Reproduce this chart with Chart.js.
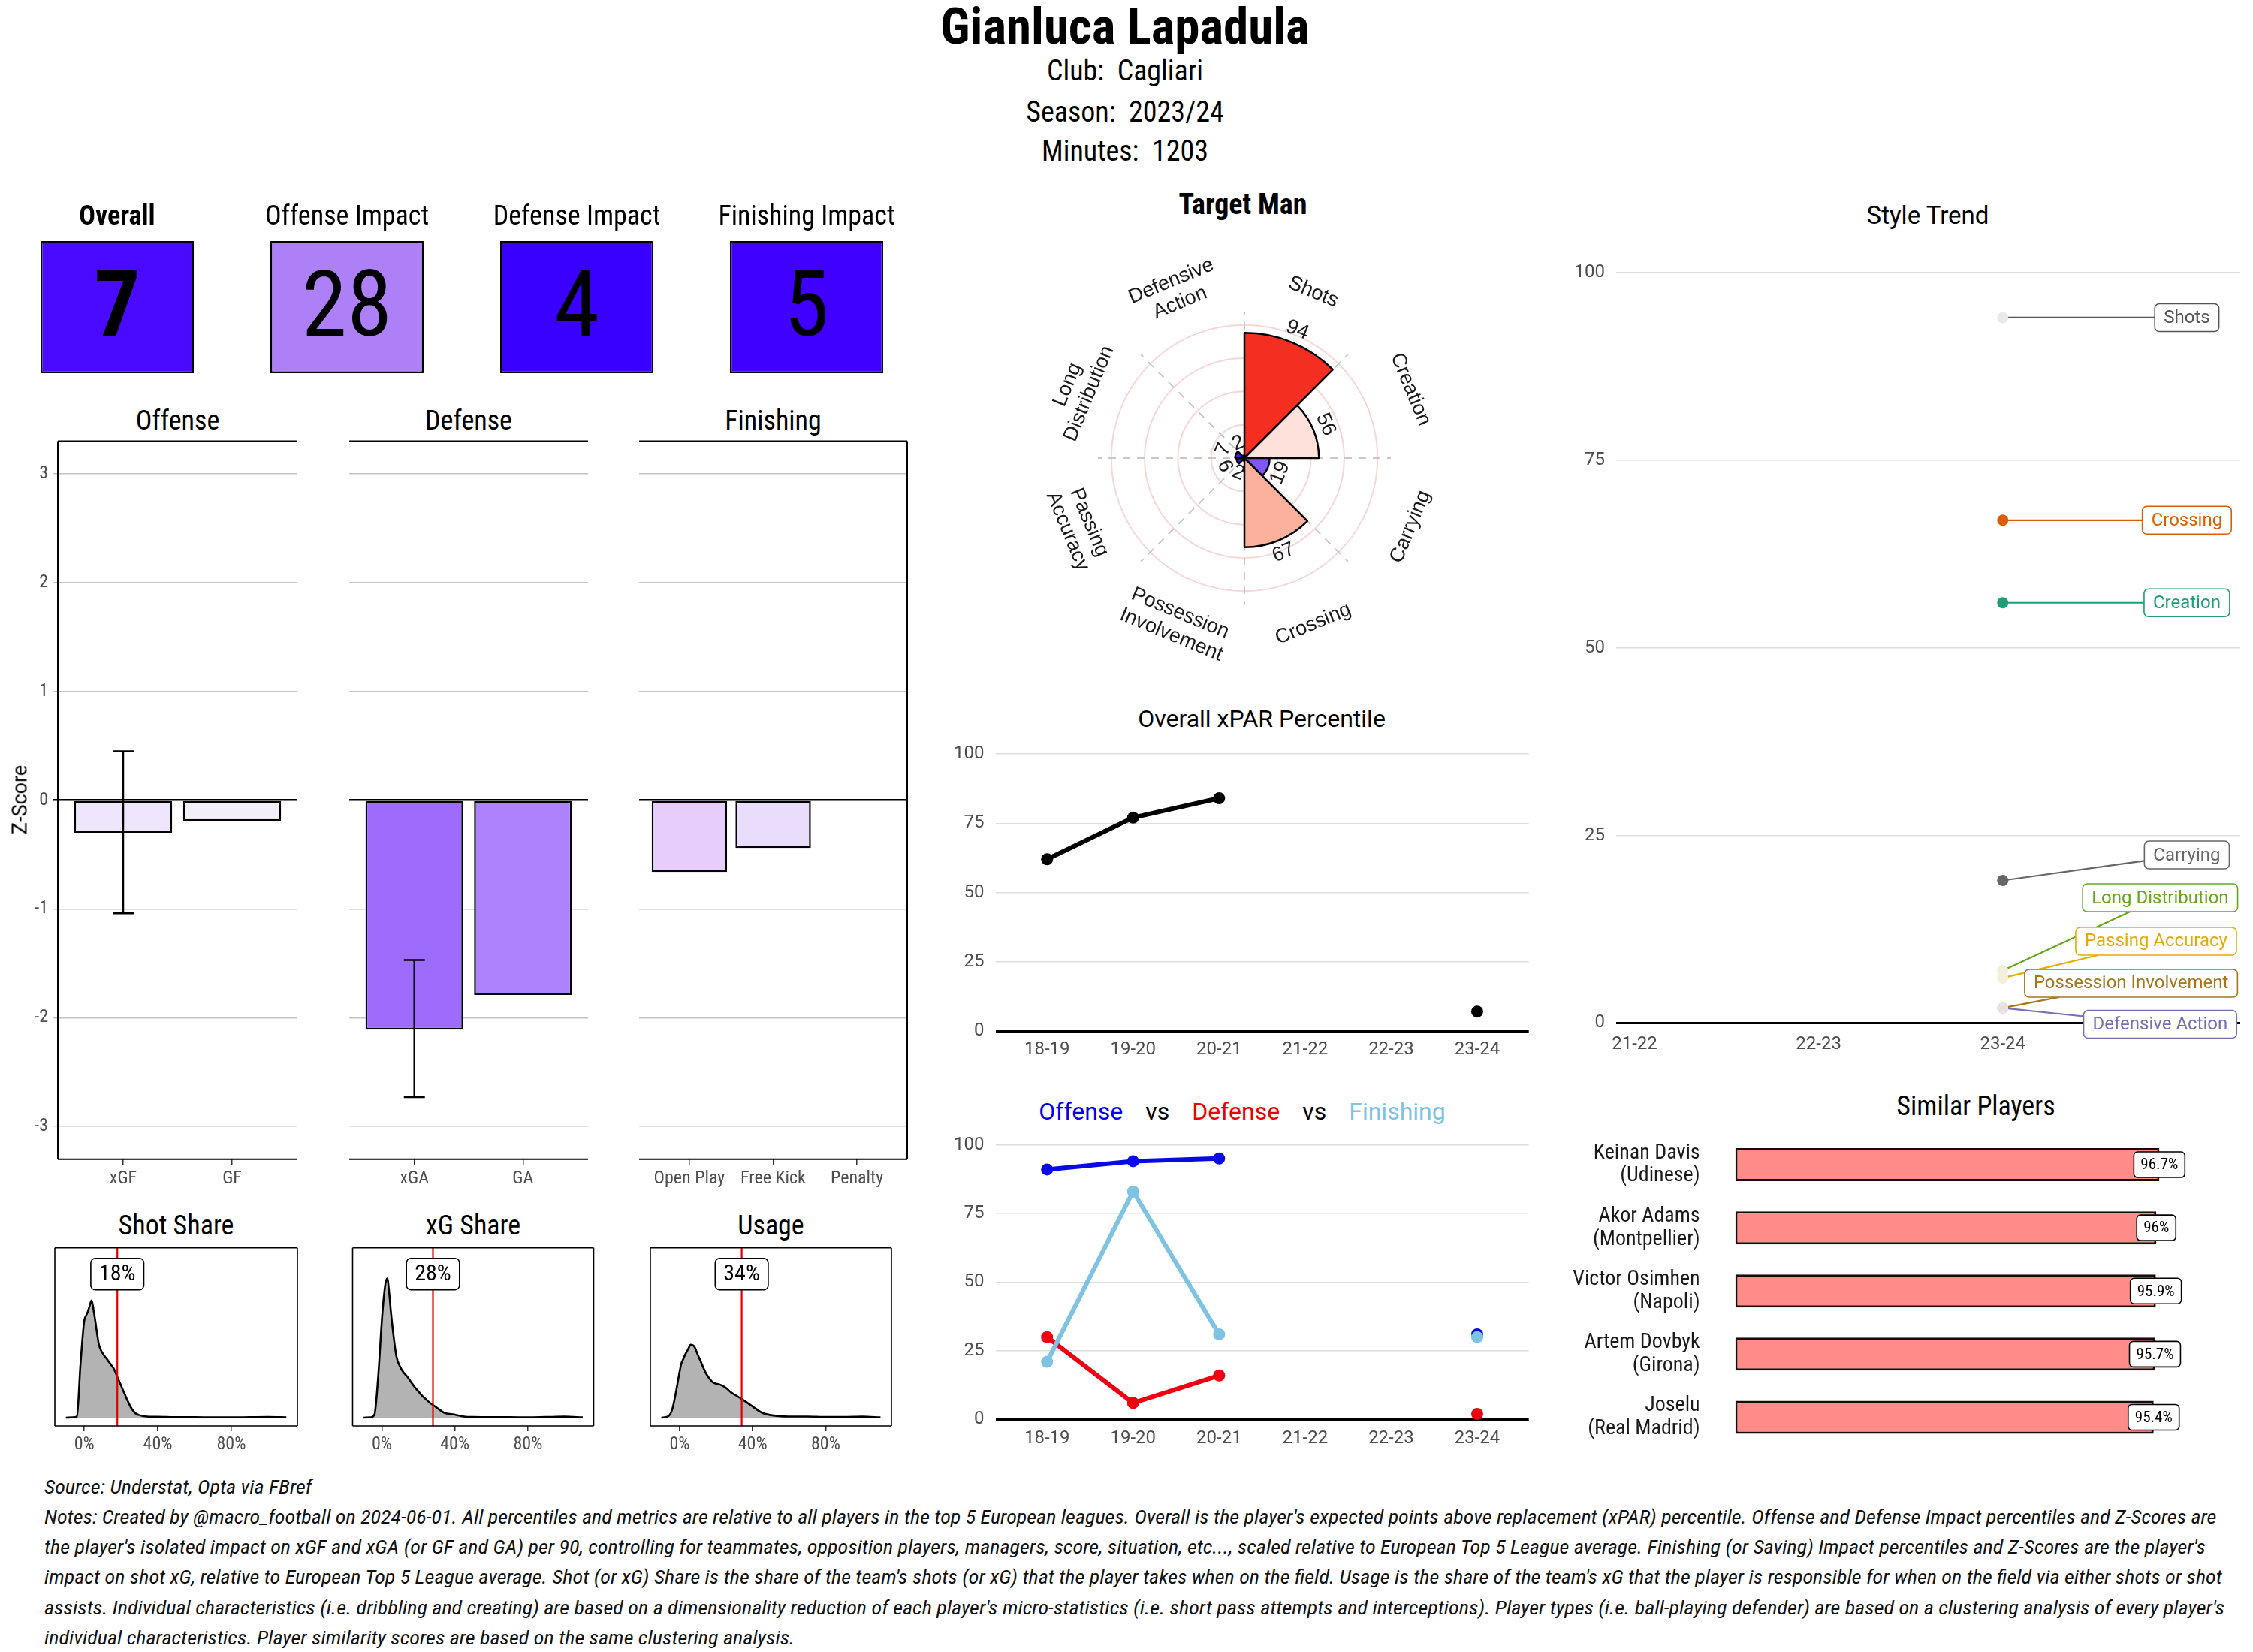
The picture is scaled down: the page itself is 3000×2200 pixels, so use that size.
<!DOCTYPE html>
<html>
<head>
<meta charset="utf-8">
<script src="https://cdn.jsdelivr.net/npm/chart.js@4.4.1/dist/chart.umd.min.js"></script>
<style>
  html, body { margin: 0; padding: 0; background: #fff; }
  #page { position: relative; width: 3000px; height: 2200px; overflow: hidden; background: #fff; }
  #page canvas { position: absolute; }
  .txt { position: absolute; white-space: pre; line-height: 1; color: #000; }
</style>
</head>
<body>
<div id="page"></div>
<script>
// ---------------- data ----------------
const playerName = 'Gianluca Lapadula';
const headerLines = ['Club:  Cagliari', 'Season:  2023/24', 'Minutes:  1203'];

const kpiLabels = ['Overall', 'Offense Impact', 'Defense Impact', 'Finishing Impact'];
const kpiValues = [7, 28, 4, 5];

const offenseCats = ['xGF', 'GF'];
const offenseZ = [-0.30, -0.19];
const offenseLo = [-1.04, null];
const offenseHi = [0.45, null];
const defenseCats = ['xGA', 'GA'];
const defenseZ = [-2.11, -1.79];
const defenseLo = [-2.73, null];
const defenseHi = [-1.47, null];
const finishCats = ['Open Play', 'Free Kick', 'Penalty'];
const finishZ = [-0.66, -0.44, 0];
const zTicks = [-3, -2, -1, 0, 1, 2, 3];

// density curves (share in %, height in panel units)
const densX = [-10, -6, -4, -2, 0, 1, 2, 3, 4, 5, 6, 8, 10, 12, 14, 16, 18, 20, 22, 24, 26, 28, 30, 34, 40, 45, 50, 60, 70, 80, 90, 100, 110];
const shotShareDens = [0, 0.002, 0.007, 0.32, 0.57, 0.6, 0.625, 0.66, 0.69, 0.64, 0.57, 0.43, 0.38, 0.35, 0.32, 0.29, 0.24, 0.19, 0.14, 0.09, 0.05, 0.025, 0.015, 0.007, 0.005, 0.004, 0.003, 0.003, 0.002, 0.002, 0.003, 0.004, 0.002];
const xgShareDens = [0, 0.002, 0.02, 0.24, 0.57, 0.7, 0.79, 0.82, 0.74, 0.62, 0.52, 0.36, 0.30, 0.265, 0.24, 0.21, 0.18, 0.155, 0.13, 0.11, 0.09, 0.075, 0.06, 0.03, 0.018, 0.007, 0.004, 0.003, 0.003, 0.002, 0.004, 0.006, 0.002];
const usageDens = [0, 0.01, 0.05, 0.15, 0.27, 0.32, 0.345, 0.37, 0.39, 0.41, 0.43, 0.42, 0.37, 0.32, 0.27, 0.235, 0.21, 0.2, 0.195, 0.185, 0.17, 0.15, 0.137, 0.11, 0.066, 0.03, 0.015, 0.007, 0.007, 0.004, 0.004, 0.006, 0.002];
const shareNames = ['Shot Share', 'xG Share', 'Usage'];
const shareValues = [18, 28, 34];
const shareTicks = [0, 40, 80];

const styleType = 'Target Man';
const styleAxes = ['Shots', 'Creation', 'Carrying', 'Crossing', 'Possession\nInvolvement', 'Passing\nAccuracy', 'Long\nDistribution', 'Defensive\nAction'];
const styleScores = [94, 56, 19, 67, 2, 6, 7, 2];

const seasons = ['18-19', '19-20', '20-21', '21-22', '22-23', '23-24'];
const xparPct = [62, 77, 84, null, null, 7];
const offensePct = [91, 94, 95, null, null, 31];
const defensePct = [30, 6, 16, null, null, 2];
const finishingPct = [21, 83, 31, null, null, 30];
const pctTicks = [0, 25, 50, 75, 100];

const trendSeasons = ['21-22', '22-23', '23-24'];
const trendNames = ['Shots', 'Crossing', 'Creation', 'Carrying', 'Long Distribution', 'Passing Accuracy', 'Possession Involvement', 'Defensive Action'];
const trend2324 = [94, 67, 56, 19, 7, 6, 2, 2];

const simPlayers = ['Keinan Davis', 'Akor Adams', 'Victor Osimhen', 'Artem Dovbyk', 'Joselu'];
const simClubs = ['Udinese', 'Montpellier', 'Napoli', 'Girona', 'Real Madrid'];
const simScores = [96.7, 96, 95.9, 95.7, 95.4];

const sourceLine = 'Source: Understat, Opta via FBref';
const noteLines = [
  "Notes: Created by @macro_football on 2024-06-01. All percentiles and metrics are relative to all players in the top 5 European leagues. Overall is the player's expected points above replacement (xPAR) percentile. Offense and Defense Impact percentiles and Z-Scores are",
  "the player's isolated impact on xGF and xGA (or GF and GA) per 90, controlling for teammates, opposition players, managers, score, situation, etc..., scaled relative to European Top 5 League average. Finishing (or Saving) Impact percentiles and Z-Scores are the player's",
  "impact on shot xG, relative to European Top 5 League average. Shot (or xG) Share is the share of the team's shots (or xG) that the player takes when on the field. Usage is the share of the team's xG that the player is responsible for when on the field via either shots or shot",
  "assists. Individual characteristics (i.e. dribbling and creating) are based on a dimensionality reduction of each player's micro-statistics (i.e. short pass attempts and interceptions). Player types (i.e. ball-playing defender) are based on a clustering analysis of every player's",
  "individual characteristics. Player similarity scores are based on the same clustering analysis."
];

// ---------------- styles ----------------
const kpiColors = ['#4A0AFF', '#AE80F8', '#3A00FF', '#3F00FF'];
const offenseColors = ['#EFE6FD', '#F2EEFA'];
const defenseColors = ['#9D6CFD', '#AE82FC'];
const finishColors = ['#E6CDFC', '#E9DDFB', '#FFFFFF'];
const polarColors = ['#F42E20', '#FDE1DA', '#8056FA', '#FBB19C', '#3B0AFF', '#4514FF', '#4818FF', '#3B0AFF'];
const trendColors = ['#555555', '#D95F02', '#1B9E77', '#666666', '#66A61E', '#E6AB02', '#A6761D', '#7570B3'];
const trendPointColors = ['#EAEAEA', '#D95F02', '#1B9E77', '#666666', '#F3EFD9', '#F3EFD9', '#E8E2E2', '#E8E2E2'];
const trendLabelAt = [[3.0, 94], [3.0, 67], [3.0, 56], [3.0, 22.4], [2.855, 16.7], [2.833, 10.9], [2.697, 5.3], [2.855, -0.16]];

// pick a condensed face if one is installed, otherwise squeeze Roboto
function fontAvailable(name) {
  const c = document.createElement('canvas').getContext('2d');
  const s = 'abcdefghijklmnopqrstuvwxyzABCDEFGHIJ0123456789';
  return ['monospace', 'serif'].some(base => {
    c.font = '40px ' + base;
    const w0 = c.measureText(s).width;
    c.font = `40px '${name}', ${base}`;
    return c.measureText(s).width !== w0;
  });
}
const condName = ['Roboto Condensed', 'Liberation Sans Narrow', 'Arial Narrow'].find(fontAvailable);
const COND = condName ? `'${condName}', Roboto, sans-serif` : 'Roboto, sans-serif';
const SQ = condName ? 1 : 0.86;
const SANS = 'Roboto, sans-serif';
const ARIAL = "'Liberation Sans', Arial, sans-serif";

Chart.defaults.animation = false;
Chart.defaults.responsive = false;
Chart.defaults.plugins.legend.display = false;
Chart.defaults.plugins.tooltip.enabled = false;
Chart.defaults.color = '#4D4D4D';
Chart.defaults.font.family = COND;

const page = document.getElementById('page');

function makeCanvas(cv) {
  const c = document.createElement('canvas');
  c.width = cv.w; c.height = cv.h;
  c.style.left = cv.x + 'px'; c.style.top = cv.y + 'px';
  c.style.width = cv.w + 'px'; c.style.height = cv.h + 'px';
  page.appendChild(c);
  return c;
}

// padding / axis sizes so that the plot area lands on area {L,T,R,B}
function fit(cv, area) {
  return { top: area.T - cv.y, right: cv.x + cv.w - area.R, left: area.L - cv.x, bottom: cv.y + cv.h - area.B };
}
// fixed axis sizes, and no extra room for overhanging tick labels
const fixW = w => s => { s.width = w; s.paddingTop = 0; s.paddingBottom = 0; };
const fixH = h => s => { s.height = h; s.paddingLeft = 0; s.paddingRight = 0; };

function htext(txt, x, y, o) {
  const d = document.createElement('div');
  d.className = 'txt';
  d.style.left = x + 'px';
  d.style.top = y + 'px';
  d.style.fontSize = o.size + 'px';
  d.style.fontFamily = o.cond ? COND : SANS;
  d.style.fontWeight = o.bold ? 700 : 400;
  d.style.fontStyle = o.italic ? 'italic' : 'normal';
  if (o.color) d.style.color = o.color;
  const left = o.align === 'left';
  d.style.transformOrigin = left ? 'left center' : 'center center';
  d.style.transform = `translate(${left ? '0' : '-50%'},-50%)` + (o.rotate ? ` rotate(${o.rotate}deg)` : '') + ` scaleX(${o.cond ? SQ : 1})`;
  if (o.html) d.innerHTML = txt; else d.textContent = txt;
  page.appendChild(d);
  return d;
}

function ctext(ctx, t, x, y, font, color, squeeze, rot) {
  ctx.save();
  ctx.font = font;
  ctx.fillStyle = color;
  ctx.textAlign = 'center';
  ctx.textBaseline = 'middle';
  ctx.translate(x, y);
  if (rot) ctx.rotate(rot);
  if (squeeze && SQ !== 1) ctx.scale(SQ, 1);
  ctx.fillText(t, 0, 0);
  ctx.restore();
}

function rrect(ctx, x, y, w, h, r) {
  ctx.beginPath();
  ctx.moveTo(x + r, y);
  ctx.arcTo(x + w, y, x + w, y + h, r);
  ctx.arcTo(x + w, y + h, x, y + h, r);
  ctx.arcTo(x, y + h, x, y, r);
  ctx.arcTo(x, y, x + w, y, r);
  ctx.closePath();
}

function boxSize(ctx, t, o) {
  ctx.save();
  ctx.font = o.font;
  const w = ctx.measureText(t).width * (o.cond ? SQ : 1) + 2 * o.padX;
  ctx.restore();
  return { w, h: o.h };
}

function labelBox(ctx, t, cx, cy, o) {
  const { w, h } = boxSize(ctx, t, o);
  ctx.save();
  rrect(ctx, cx - w / 2, cy - h / 2, w, h, o.r || 6);
  ctx.fillStyle = '#fff';
  ctx.fill();
  ctx.lineWidth = o.lw || 1.5;
  ctx.strokeStyle = o.stroke;
  ctx.stroke();
  ctx.restore();
  ctext(ctx, t, cx, cy + 1, o.font, o.color, o.cond);
}

// black panel edges (ggplot style)
const framePlugin = {
  id: 'frame',
  afterDraw(chart, args, opts) {
    const { ctx, chartArea: a } = chart;
    ctx.save();
    ctx.strokeStyle = '#000';
    ctx.lineWidth = opts.width || 2;
    ctx.beginPath();
    (opts.sides || []).forEach(s => {
      if (s === 'top') { ctx.moveTo(a.left, a.top); ctx.lineTo(a.right, a.top); }
      if (s === 'bottom') { ctx.moveTo(a.left, a.bottom); ctx.lineTo(a.right, a.bottom); }
      if (s === 'left') { ctx.moveTo(a.left, a.top); ctx.lineTo(a.left, a.bottom); }
      if (s === 'right') { ctx.moveTo(a.right, a.top); ctx.lineTo(a.right, a.bottom); }
    });
    ctx.stroke();
    ctx.restore();
  }
};

// ---------------- header ----------------
htext(playerName, 1498, 35, { size: 67, bold: true, cond: true });
headerLines.forEach((t, i) => htext(t, 1498, [94, 149, 201][i], { size: 38, cond: true }));

// ---------------- KPI tiles ----------------
(function () {
  const cv = { x: 3, y: 250, w: 1224, h: 260 };
  const p = fit(cv, { L: 3, T: 321, R: 1227, B: 497 });
  new Chart(makeCanvas(cv), {
    type: 'bar',
    data: {
      labels: kpiLabels,
      datasets: [{
        data: kpiValues.map(() => [0, 1]),
        backgroundColor: kpiColors, borderColor: '#000', borderWidth: 2.5,
        borderSkipped: false, categoryPercentage: 1, barPercentage: 0.667
      }]
    },
    options: {
      layout: { padding: p },
      scales: { x: { display: false }, y: { display: false, min: 0, max: 1 } }
    },
    plugins: [{
      id: 'kpiText',
      afterDatasetsDraw(chart) {
        const meta = chart.getDatasetMeta(0), ctx = chart.ctx;
        meta.data.forEach((bar, i) => {
          const b = i === 0 ? 'bold ' : '';
          ctext(ctx, String(kpiValues[i]), bar.x, (bar.y + bar.base) / 2 + 7, `${b}122px ${COND}`, '#000', true);
          ctext(ctx, kpiLabels[i], bar.x, chart.chartArea.top - 31, `${b}36px ${COND}`, '#000', true);
        });
      }
    }]
  });
})();

// ---------------- z-score bars ----------------
const errPlugin = {
  id: 'errbars',
  afterDatasetsDraw(chart, args, o) {
    const meta = chart.getDatasetMeta(0), y = chart.scales.y, ctx = chart.ctx;
    ctx.save();
    ctx.strokeStyle = '#000';
    ctx.lineWidth = 2.5;
    (o.lo || []).forEach((lo, i) => {
      if (lo == null) return;
      const x = meta.data[i].x, y1 = y.getPixelForValue(lo), y2 = y.getPixelForValue(o.hi[i]);
      ctx.beginPath();
      ctx.moveTo(x, y1); ctx.lineTo(x, y2);
      ctx.moveTo(x - 14, y1); ctx.lineTo(x + 14, y1);
      ctx.moveTo(x - 14, y2); ctx.lineTo(x + 14, y2);
      ctx.stroke();
    });
    ctx.restore();
  }
};

function zChart(cv, area, cats, vals, colors, lo, hi, showY, sides, title) {
  const p = fit(cv, area);
  htext(title, (area.L + area.R) / 2, 560, { size: 36, cond: true });
  new Chart(makeCanvas(cv), {
    type: 'bar',
    data: {
      datasets: [{
        data: vals.map((v, i) => ({ x: i, y: v })),
        backgroundColor: colors, borderColor: '#000', borderWidth: 2.5,
        borderSkipped: false, categoryPercentage: 1, barPercentage: 0.9
      }]
    },
    options: {
      layout: { padding: { top: p.top, right: p.right, left: 0, bottom: 0 } },
      scales: {
        x: {
          type: 'linear', min: -0.6, max: cats.length - 0.4, offset: false,
          afterBuildTicks: s => { s.ticks = cats.map((_, i) => ({ value: i })); },
          grid: { offset: false, drawOnChartArea: false, drawTicks: true, tickLength: 8, color: '#333', lineWidth: 1.5 },
          border: { display: false },
          ticks: { callback: v => cats[v], font: { size: 24 }, color: '#4D4D4D', padding: 4, maxRotation: 0 },
          afterFit: fixH(p.bottom)
        },
        y: {
          min: -3.3, max: 3.3,
          afterBuildTicks: s => { s.ticks = zTicks.map(v => ({ value: v })); },
          grid: {
            color: c => c.tick && c.tick.value === 0 ? '#000' : '#C4C4C4',
            lineWidth: c => c.tick && c.tick.value === 0 ? 2.5 : 1.5,
            drawTicks: showY, tickLength: 7
          },
          border: { display: false },
          ticks: { display: showY, font: { size: 24 }, color: '#4D4D4D', padding: 6 },
          afterFit: fixW(p.left)
        }
      },
      plugins: { frame: { sides }, errbars: { lo, hi } }
    },
    plugins: [framePlugin, errPlugin]
  });
}

zChart({ x: 0, y: 575, w: 400, h: 1010 }, { L: 77, T: 587.5, R: 396, B: 1543.7 },
  offenseCats, offenseZ, offenseColors, offenseLo, offenseHi, true, ['top', 'bottom', 'left'], 'Offense');
zChart({ x: 420, y: 575, w: 370, h: 1010 }, { L: 465, T: 587.5, R: 783, B: 1543.7 },
  defenseCats, defenseZ, defenseColors, defenseLo, defenseHi, false, ['top', 'bottom'], 'Defense');
zChart({ x: 810, y: 575, w: 405, h: 1010 }, { L: 851, T: 587.5, R: 1208, B: 1543.7 },
  finishCats, finishZ, finishColors, [], [], false, ['top', 'bottom', 'right'], 'Finishing');
htext('Z-Score', 27, 1065, { size: 27, rotate: -90 });

// ---------------- share densities ----------------
const vlinePlugin = {
  id: 'vline',
  afterDatasetsDraw(chart, args, o) {
    const { ctx, chartArea: a } = chart;
    const x = chart.scales.x.getPixelForValue(o.value);
    ctx.save();
    ctx.strokeStyle = '#E00000';
    ctx.lineWidth = 2.2;
    ctx.beginPath(); ctx.moveTo(x, a.top); ctx.lineTo(x, a.bottom); ctx.stroke();
    ctx.restore();
    labelBox(ctx, o.value + '%', x, a.top + 35, { font: `30px ${COND}`, cond: true, padX: 11, h: 42, stroke: '#000', color: '#000', lw: 1.6 });
  }
};

function densChart(cv, area, ys, val, title) {
  const p = fit(cv, area);
  htext(title, (area.L + area.R) / 2, 1632, { size: 36, cond: true });
  new Chart(makeCanvas(cv), {
    type: 'line',
    data: {
      datasets: [{
        data: densX.map((x, i) => ({ x, y: ys[i] })),
        borderColor: '#000', borderWidth: 2.6, backgroundColor: '#B3B3B3',
        fill: { value: 0 }, pointRadius: 0, cubicInterpolationMode: 'monotone'
      }]
    },
    options: {
      layout: { padding: { top: p.top, right: p.right, left: p.left, bottom: 0 } },
      scales: {
        x: {
          type: 'linear', min: -16, max: 116,
          afterBuildTicks: s => { s.ticks = shareTicks.map(v => ({ value: v })); },
          ticks: { callback: v => v + '%', font: { size: 24 }, color: '#4D4D4D', padding: 4 },
          grid: { drawOnChartArea: false, tickLength: 7, color: '#333', lineWidth: 1.5 },
          border: { display: false },
          afterFit: fixH(p.bottom)
        },
        y: { display: false, min: -0.0485, max: 1 }
      },
      plugins: { frame: { sides: ['top', 'bottom', 'left', 'right'], width: 1.6 }, vline: { value: val } }
    },
    plugins: [framePlugin, vlinePlugin]
  });
}

densChart({ x: 60, y: 1650, w: 345, h: 300 }, { L: 73, T: 1661.7, R: 396, B: 1899 }, shotShareDens, shareValues[0], shareNames[0]);
densChart({ x: 455, y: 1650, w: 345, h: 300 }, { L: 469.5, T: 1661.7, R: 790.5, B: 1899 }, xgShareDens, shareValues[1], shareNames[1]);
densChart({ x: 850, y: 1650, w: 345, h: 300 }, { L: 866, T: 1661.7, R: 1187, B: 1899 }, usageDens, shareValues[2], shareNames[2]);

// ---------------- style wheel ----------------
htext(styleType, 1655, 272, { size: 38, bold: true, cond: true });
(function () {
  const cv = { x: 1357, y: 310, w: 600, h: 600 };
  function rotText(ctx, lines, cx, cy, r, th, font, lh) {
    const x = cx + r * Math.sin(th), y = cy - r * Math.cos(th);
    const rot = (th > Math.PI / 2 && th < 3 * Math.PI / 2) ? th - Math.PI : th;
    ctx.save();
    ctx.translate(x, y);
    ctx.rotate(rot);
    ctx.font = font;
    ctx.fillStyle = '#1A1A1A';
    ctx.textAlign = 'center';
    ctx.textBaseline = 'middle';
    lines.forEach((t, k) => ctx.fillText(t, 0, (k - (lines.length - 1) / 2) * lh));
    ctx.restore();
  }
  new Chart(makeCanvas(cv), {
    type: 'polarArea',
    data: {
      labels: styleAxes,
      datasets: [{ data: styleScores, backgroundColor: polarColors, borderColor: '#000', borderWidth: 2.5 }]
    },
    options: {
      layout: { padding: 105 },
      scales: {
        r: {
          min: 0, max: 110,
          afterBuildTicks: s => { s.ticks = pctTicks.map(v => ({ value: v })); },
          ticks: { display: false },
          grid: { color: '#F7D6D6', lineWidth: 2 },
          angleLines: { display: true, color: '#C8C8C8', lineWidth: 2, borderDash: [10, 9] },
          pointLabels: { display: false }
        }
      }
    },
    plugins: [{
      id: 'wheelText',
      afterDraw(chart) {
        const s = chart.scales.r, ctx = chart.ctx;
        styleScores.forEach((v, i) => {
          const th = (i + 0.5) * Math.PI / 4;
          rotText(ctx, [String(v)], s.xCenter, s.yCenter, s.getDistanceFromCenterForValue(v + 10), th, `27px ${ARIAL}`, 0);
          rotText(ctx, styleAxes[i].split('\n'), s.xCenter, s.yCenter, s.getDistanceFromCenterForValue(135), th, `27px ${ARIAL}`, 31);
        });
      }
    }]
  });
})();

// ---------------- percentile lines ----------------
function pctChart(cv, area, sets) {
  const p = fit(cv, area);
  new Chart(makeCanvas(cv), {
    type: 'line',
    data: {
      datasets: sets.map(d => ({
        data: d.values.map((v, i) => ({ x: i, y: v })),
        borderColor: d.color, backgroundColor: d.color, borderWidth: 6,
        pointRadius: 8, pointBorderWidth: 0, spanGaps: false, clip: false, order: d.order
      }))
    },
    options: {
      layout: { padding: { top: p.top, right: p.right, left: 0, bottom: 0 } },
      scales: {
        x: {
          type: 'linear', min: -0.6, max: 5.6,
          afterBuildTicks: s => { s.ticks = seasons.map((_, i) => ({ value: i })); },
          ticks: { callback: v => seasons[v], font: { size: 24, family: SANS }, color: '#4D4D4D', padding: 11 },
          grid: { display: false, drawTicks: false },
          border: { display: false },
          afterFit: fixH(p.bottom)
        },
        y: {
          min: 0, max: 100,
          afterBuildTicks: s => { s.ticks = pctTicks.map(v => ({ value: v })); },
          ticks: { font: { size: 24, family: SANS }, color: '#4D4D4D', padding: 15 },
          grid: {
            color: c => c.tick && c.tick.value === 0 ? '#000' : '#DEDEDE',
            lineWidth: c => c.tick && c.tick.value === 0 ? 3 : 1.5,
            drawTicks: false
          },
          border: { display: false },
          afterFit: fixW(p.left)
        }
      }
    }
  });
}

htext('Overall xPAR Percentile', 1680, 957, { size: 32 });
pctChart({ x: 1255, y: 990, w: 790, h: 430 }, { L: 1325.5, T: 1004, R: 2035.7, B: 1373 },
  [{ values: xparPct, color: '#000', order: 0 }]);

htext('<span style="color:#0000EE">Offense</span><span style="margin:0 30px">vs</span><span style="color:#EE0000">Defense</span><span style="margin:0 30px">vs</span><span style="color:#7EC3E3">Finishing</span>',
  1654, 1480, { size: 32, html: true });
pctChart({ x: 1255, y: 1510, w: 790, h: 425 }, { L: 1325.5, T: 1524.5, R: 2035.7, B: 1890.4 },
  [{ values: offensePct, color: '#0A0AE6', order: 2 },
   { values: defensePct, color: '#EE0010', order: 1 },
   { values: finishingPct, color: '#7EC3E3', order: 0 }]);

// ---------------- style trend ----------------
htext('Style Trend', 2567, 286, { size: 33 });
(function () {
  const cv = { x: 2060, y: 340, w: 935, h: 1075 };
  const p = fit(cv, { L: 2152, T: 363, R: 2983, B: 1362.4 });
  const boxOpt = i => ({ font: `24px ${SANS}`, padX: 12, h: 37, stroke: trendColors[i], color: trendColors[i], lw: 1.6, r: 6 });
  new Chart(makeCanvas(cv), {
    type: 'line',
    data: {
      datasets: [{
        data: trend2324.map(v => ({ x: 2, y: v })),
        showLine: false, pointRadius: 7.5, pointBorderWidth: 0,
        pointBackgroundColor: trendPointColors, clip: false
      }]
    },
    options: {
      layout: { padding: { top: p.top, right: p.right, left: 0, bottom: 0 } },
      scales: {
        x: {
          type: 'linear', min: -0.1, max: 3.29,
          afterBuildTicks: s => { s.ticks = trendSeasons.map((_, i) => ({ value: i })); },
          ticks: { callback: v => trendSeasons[v], font: { size: 24, family: SANS }, color: '#4D4D4D', padding: 14 },
          grid: { display: false, drawTicks: false },
          border: { display: false },
          afterFit: fixH(p.bottom)
        },
        y: {
          min: 0, max: 100,
          afterBuildTicks: s => { s.ticks = pctTicks.map(v => ({ value: v })); },
          ticks: { font: { size: 24, family: SANS }, color: '#4D4D4D', padding: 15 },
          grid: {
            color: c => c.tick && c.tick.value === 0 ? '#000' : '#DEDEDE',
            lineWidth: c => c.tick && c.tick.value === 0 ? 3 : 1.5,
            drawTicks: false
          },
          border: { display: false },
          afterFit: fixW(p.left)
        }
      }
    },
    plugins: [{
      id: 'trendLabels',
      beforeDatasetsDraw(chart) {
        const ctx = chart.ctx, xs = chart.scales.x, ys = chart.scales.y;
        trendNames.forEach((n, i) => {
          const px = xs.getPixelForValue(2), py = ys.getPixelForValue(trend2324[i]);
          const cx = xs.getPixelForValue(trendLabelAt[i][0]), cy = ys.getPixelForValue(trendLabelAt[i][1]);
          const { w, h } = boxSize(ctx, n, boxOpt(i));
          const dx = px - cx, dy = py - cy;
          const t = Math.min(dx ? (w / 2) / Math.abs(dx) : Infinity, dy ? (h / 2) / Math.abs(dy) : Infinity);
          if (t >= 1) return;
          ctx.save();
          ctx.strokeStyle = trendColors[i];
          ctx.lineWidth = 2.2;
          ctx.beginPath(); ctx.moveTo(px, py); ctx.lineTo(cx + dx * t, cy + dy * t); ctx.stroke();
          ctx.restore();
        });
      },
      afterDatasetsDraw(chart) {
        const ctx = chart.ctx, xs = chart.scales.x, ys = chart.scales.y;
        trendNames.forEach((n, i) => {
          labelBox(ctx, n, xs.getPixelForValue(trendLabelAt[i][0]), ys.getPixelForValue(trendLabelAt[i][1]), boxOpt(i));
        });
      }
    }]
  });
})();

// ---------------- similar players ----------------
htext('Similar Players', 2631, 1473, { size: 36, cond: true });
(function () {
  const cv = { x: 2060, y: 1500, w: 935, h: 440 };
  const p = fit(cv, { L: 2310.6, T: 1509, R: 2953, B: 1929.5 });
  new Chart(makeCanvas(cv), {
    type: 'bar',
    data: {
      labels: simPlayers.map((n, i) => [n, '(' + simClubs[i] + ')']),
      datasets: [{
        data: simScores, backgroundColor: '#FF8C88', borderColor: '#1A0A0A', borderWidth: 3,
        borderSkipped: false, categoryPercentage: 1, barPercentage: 0.523
      }]
    },
    options: {
      indexAxis: 'y',
      layout: { padding: { top: p.top, right: p.right, left: 0, bottom: p.bottom } },
      scales: {
        x: { display: false, min: 0, max: 110 },
        y: {
          grid: { display: false, drawTicks: false },
          border: { display: false },
          ticks: { font: { size: 28, lineHeight: 1.1 }, color: '#1A1A1A', padding: 47 },
          afterFit: fixW(p.left)
        }
      }
    },
    plugins: [{
      id: 'simText',
      afterDatasetsDraw(chart) {
        const meta = chart.getDatasetMeta(0), ctx = chart.ctx;
        meta.data.forEach((bar, i) => {
          labelBox(ctx, simScores[i] + '%', bar.x, bar.y, { font: `21px ${COND}`, cond: true, padX: 9, h: 34, stroke: '#000', color: '#000', lw: 1.6, r: 5 });
        });
      }
    }]
  });
})();

// ---------------- notes ----------------
(function () {
  const ys = [1980, 2020, 2060, 2100, 2141, 2181];
  const els = [sourceLine].concat(noteLines).map((t, i) => htext(t, 59, ys[i], { size: 26, italic: true, cond: true, align: 'left', color: '#111' }));
  const widest = Math.max(...els.map(e => e.offsetWidth));
  const k = (2962 - 59) / widest;
  els.forEach(e => { e.style.transform = `translate(0,-50%) scaleX(${k})`; });
})();
</script>
</body>
</html>
